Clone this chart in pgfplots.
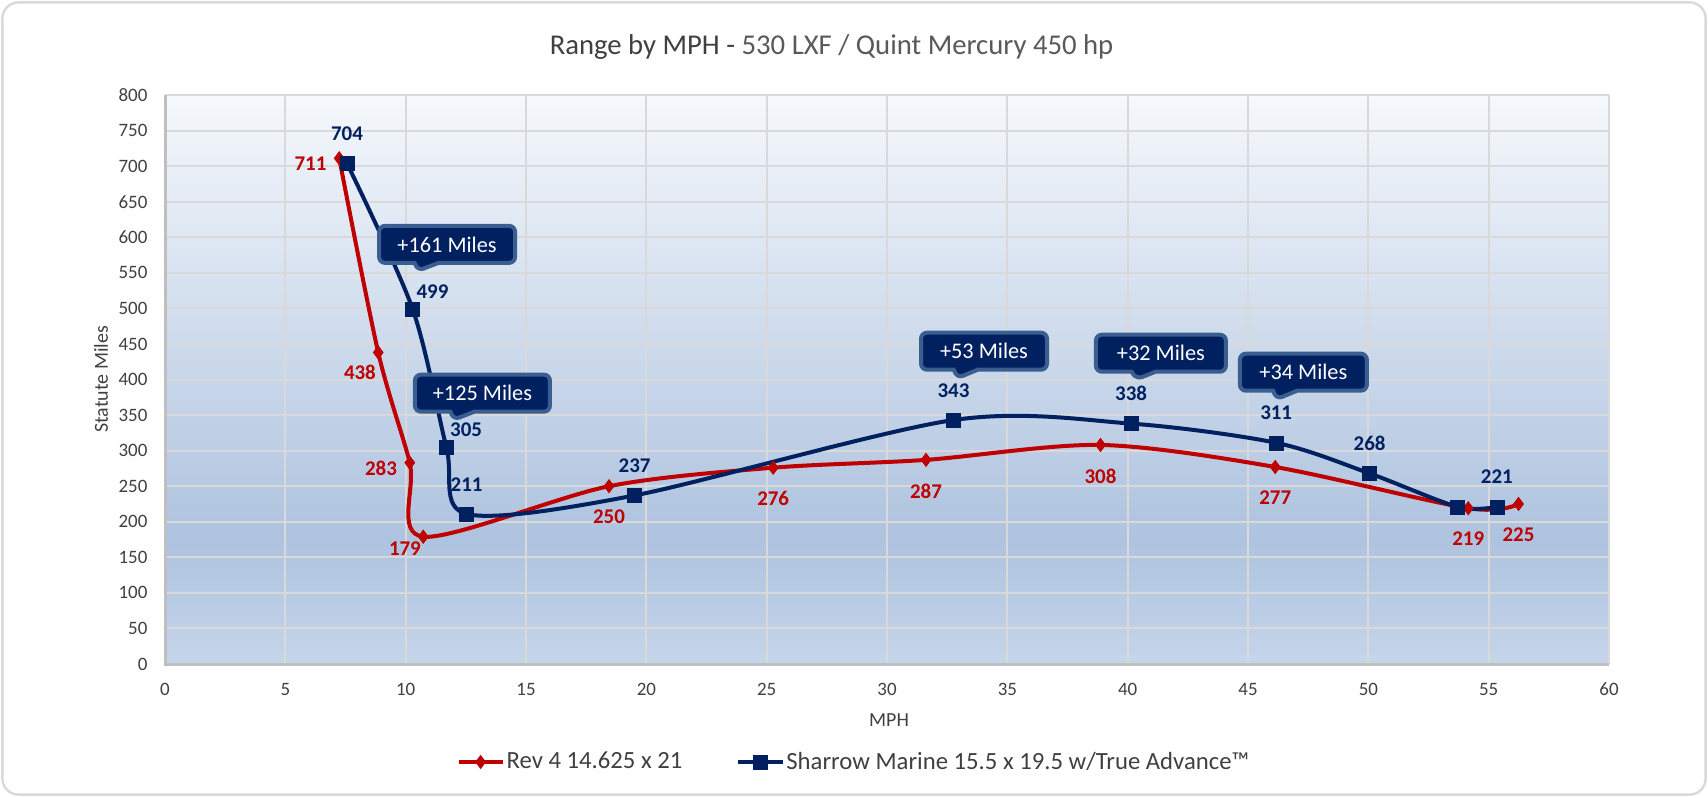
\documentclass[border=0pt]{standalone}
\usepackage{pgfplots}
\pgfplotsset{compat=1.18}
\usepackage{pgfplotstable}
\usepackage{fontspec}
\setmainfont{Carlito}
\usetikzlibrary{shapes.callouts}

\definecolor{redS}{HTML}{C00000}
\definecolor{blueS}{HTML}{002060}
\definecolor{gridc}{HTML}{D9D9D9}
\definecolor{axisc}{HTML}{BFBFBF}
\definecolor{txt}{HTML}{404040}
\definecolor{ttl}{HTML}{595959}
\definecolor{callb}{HTML}{3A5E8F}
\definecolor{bgtop}{HTML}{F5F8FC}
\definecolor{bgmid}{HTML}{AEC3DF}
\definecolor{bgbot}{HTML}{C5D5EA}

\pgfdeclareverticalshading{plotbg}{100bp}{color(0bp)=(bgbot); color(25bp)=(bgbot); color(36bp)=(bgmid); color(75bp)=(bgtop); color(100bp)=(bgtop)}

\pgfplotstableread{
x y
7.24 711
8.86 438
10.17 283
10.73 179
18.45 250
25.27 276
31.62 287
38.87 308
46.13 277
54.15 219
56.24 225
}\redtab

\pgfplotstableread{
x y
7.56 704
10.29 499
11.69 305
12.53 211
19.51 237
32.76 343
40.14 338
46.17 311
50.05 268
53.70 221
55.34 221
}\bluetab

\tikzset{
  mycall/.style={rectangle callout, fill=blueS, draw=callb, line width=2bp,
    rounded corners=3bp, text=white, font=\fontsize{11.2}{13}\selectfont,
    minimum height=18.5bp, inner sep=0pt, callout pointer width=12bp},
  redlab/.style={inner sep=0pt, text=redS, font=\bfseries\fontsize{10.5}{12}\selectfont},
  bluelab/.style={inner sep=0pt, text=blueS, font=\bfseries\fontsize{10.5}{12}\selectfont},
}

\begin{document}
\begin{tikzpicture}[x=1bp,y=1bp]
\useasboundingbox (0,0) rectangle (854,398.5);
\draw[gridc, line width=1.2bp, fill=white, rounded corners=8bp] (1.2,1.2) rectangle (852.8,397.3);
\begin{axis}[
  at={(82.5bp,66.5bp)}, anchor=south west,
  scale only axis, width=722bp, height=284.5bp,
  xmin=0, xmax=60, ymin=0, ymax=800,
  xtick={0,5,...,60}, ytick={0,50,...,800},
  clip=false,
  grid=major, major grid style={gridc, line width=1bp},
  axis line style={draw=none},
  major tick length=0pt,
  axis background/.style={shading=plotbg, shading angle=0},
  /pgf/number format/assume math mode=true,
  ticklabel style={font=\fontsize{9.5}{11}\selectfont, text=txt, inner sep=0pt},
  xticklabel style={anchor=base, yshift=-15.5bp},
  yticklabel style={anchor=east, xshift=-8.6bp},
  xlabel={MPH}, ylabel={Statute Miles},
  label style={font=\fontsize{10}{12}\selectfont, text=txt},
  xlabel style={at={(axis description cs:0.5014,-0.1107)}, anchor=base, inner sep=0pt},
  ylabel style={at={(axis description cs:-0.0443,0.5)}, anchor=center, inner sep=0pt},
  title={\color{txt}Range by MPH - \color{ttl}530 LXF / Quint Mercury 450 hp},
  title style={at={(axis description cs:0.4616,1)}, anchor=base, yshift=14.5bp, inner sep=0pt, font=\fontsize{14.4}{17}\selectfont},
  legend style={at={(axis description cs:0.477,-0.1722)}, anchor=center, draw=none, fill=none,
    font=\fontsize{12.4}{14}\selectfont, text=txt, inner sep=0pt, nodes={inner sep=1bp},
    /tikz/every even column/.append style={column sep=26bp}},
  legend columns=2,
  legend cell align=left,
  legend image code/.code={\draw[mark repeat=2,mark phase=2] plot coordinates {(0bp,0bp) (11bp,0bp) (22bp,0bp)};},
]
\draw[axisc, line width=1.5bp] (rel axis cs:0,1) -- (rel axis cs:0,0) -- (rel axis cs:1,0);

\addplot[redS, line width=2bp, smooth, mark=diamond*, mark size=3.2bp, mark options={solid, fill=redS, draw=redS, line width=0.5bp}]
  table[x=x, y=y] {\redtab};
\addlegendentry{Rev 4 14.625 x 21}

\addplot[blueS, line width=2bp, smooth, mark=square*, mark size=3.5bp, mark options={solid, fill=blueS, draw=blueS, line width=0.3bp}]
  table[x=x, y=y] {\bluetab};
\addlegendentry{Sharrow Marine 15.5 x 19.5 w/True Advance™}

% data labels
\addplot[draw=none, forget plot, point meta=y, nodes near coords, nodes near coords style={redlab, anchor=east, xshift=-6.25bp, yshift=-2.75bp}]
  coordinates {(7.24,711) (10.17,283)};
\addplot[draw=none, forget plot, point meta=y, nodes near coords, nodes near coords style={redlab, anchor=north east, xshift=-1bp, yshift=-6bp}]
  coordinates {(8.86,438)};
\addplot[draw=none, forget plot, point meta=y, nodes near coords, nodes near coords style={redlab, anchor=north east, xshift=-1bp, yshift=-2.5bp}]
  coordinates {(10.73,179)};
\addplot[draw=none, forget plot, point meta=y, nodes near coords, nodes near coords style={redlab, anchor=north, yshift=-11.75bp}]
  coordinates {(18.45,250) (25.27,276) (31.62,287) (38.87,308) (46.13,277) (54.15,219) (56.24,225)};
\addplot[draw=none, forget plot, point meta=y, nodes near coords, nodes near coords style={bluelab, anchor=south, yshift=11.25bp}]
  coordinates {(7.56,704) (12.53,211) (19.51,237) (32.76,343) (40.14,338) (46.17,311) (50.05,268) (55.34,221)};
\addplot[draw=none, forget plot, point meta=y, nodes near coords, nodes near coords style={bluelab, anchor=south west, xshift=1.75bp, yshift=5.25bp}]
  coordinates {(10.29,499) (11.69,305)};

\node[mycall, minimum width=68bp, callout absolute pointer={(axis cs:10.51,553)}] at (axis cs:11.72,590) {+161 Miles};
\node[mycall, minimum width=67.5bp, callout absolute pointer={(axis cs:12.0,343.5)}] at (axis cs:13.19,380.8) {+125 Miles};
\node[mycall, minimum width=63bp, callout absolute pointer={(axis cs:32.93,402)}] at (axis cs:34.03,439.8) {+53 Miles};
\node[mycall, minimum width=65bp, callout absolute pointer={(axis cs:40.37,400.4)}] at (axis cs:41.38,437) {+32 Miles};
\node[mycall, minimum width=63.5bp, callout absolute pointer={(axis cs:46.19,372.3)}] at (axis cs:47.3,410.3) {+34 Miles};
\end{axis}
\end{tikzpicture}
\end{document}
